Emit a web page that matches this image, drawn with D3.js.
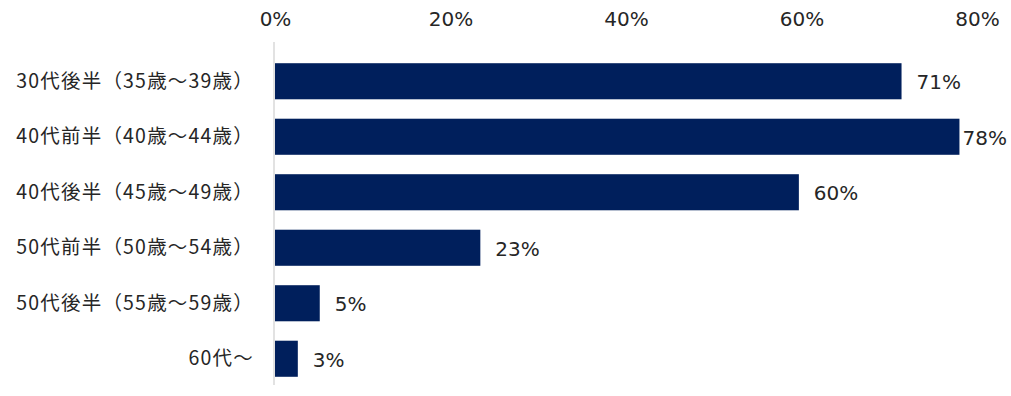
<!DOCTYPE html>
<html><head><meta charset="utf-8">
<script src="https://cdn.jsdelivr.net/npm/d3@7"></script>
<style>body{margin:0;background:#fff}svg{display:block}</style>
</head><body>
<svg id="c" width="1011" height="396"></svg>
<script>
const categories = ["30代後半（35歳～39歳）","40代前半（40歳～44歳）","40代後半（45歳～49歳）","50代前半（50歳～54歳）","50代後半（55歳～59歳）","60代～"];
const values = [71.4, 78, 59.7, 23.4, 5.1, 2.6];
const valueLabels = ["71%","78%","60%","23%","5%","3%"];
const ticks = [0, 20, 40, 60, 80];

const svg = d3.select("#c");
const W = 1011;
const x = d3.scaleLinear().domain([0, 80]).range([275, 977]);
const y = d3.scaleBand().domain(categories).range([53.5, 386.5]).paddingInner(0.35).paddingOuter(0.175);

// axis line
svg.append("line").attr("x1", x(0) - 1).attr("x2", x(0) - 1).attr("y1", 42).attr("y2", 385)
  .attr("stroke", "#d9d9d9").attr("stroke-width", 1.5);

// top tick labels
const xAxis = d3.axisTop(x).tickValues(ticks).tickFormat(d => d + "%").tickSize(0).tickPadding(0);
const gx = svg.append("g").attr("transform", "translate(0,26)").call(xAxis);
gx.select(".domain").remove();
gx.selectAll("text").attr("font-family", "'DejaVu Sans',Verdana,sans-serif").attr("font-size", 20).attr("fill", "#262626");

// category labels
const yAxis = d3.axisLeft(y).tickSize(0).tickPadding(0);
const gy = svg.append("g").attr("transform", "translate(254,0)").call(yAxis);
gy.select(".domain").remove();
gy.selectAll("text").attr("font-family", "'Noto Sans CJK JP',sans-serif").attr("font-size", 19.5)
  .attr("letter-spacing", 1.2).attr("fill", "#262626");

// bars
svg.selectAll("rect.bar").data(values).join("rect").attr("class", "bar")
  .attr("x", x(0)).attr("y", (d, i) => y(categories[i]))
  .attr("width", d => x(d) - x(0)).attr("height", y.bandwidth())
  .attr("fill", "#001f5c");

// value labels
svg.selectAll("text.val").data(values).join("text").attr("class", "val")
  .attr("font-family", "'DejaVu Sans',Verdana,sans-serif").attr("font-size", 20).attr("fill", "#262626")
  .attr("dominant-baseline", "central")
  .attr("y", (d, i) => y(categories[i]) + y.bandwidth() / 2 + 1)
  .text((d, i) => valueLabels[i])
  .attr("x", function(d) {
    const w = this.getComputedTextLength();
    return Math.min(x(d) + 15, W - 4 - w);
  });
</script>
</body></html>
